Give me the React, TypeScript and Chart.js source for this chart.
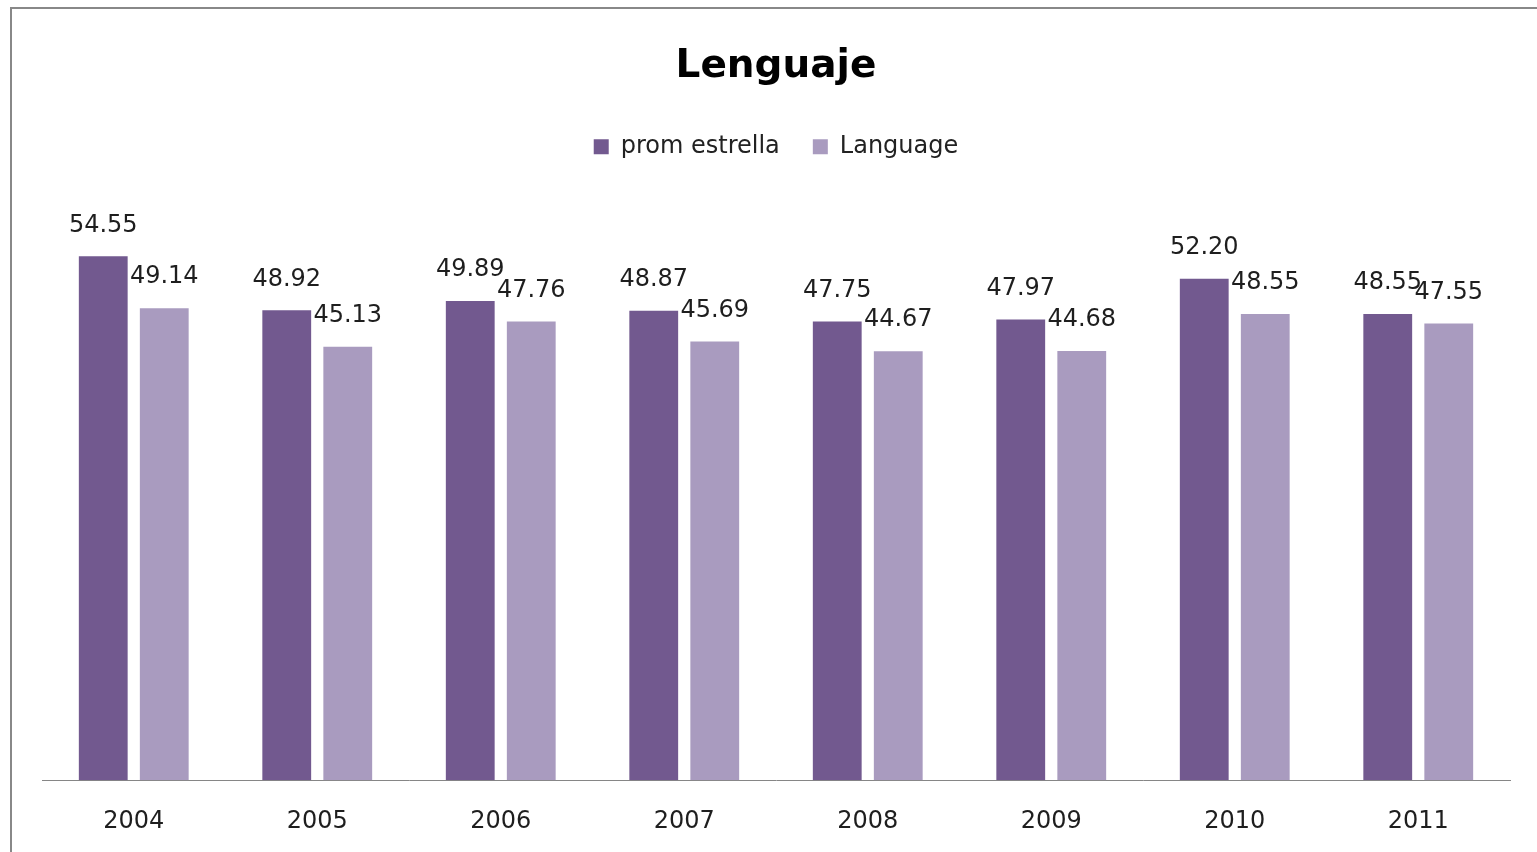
import React, { useEffect, useRef } from "react";
import { Chart, registerables } from "chart.js";

Chart.register(...registerables);

const categories = ["2004", "2005", "2006", "2007", "2008", "2009", "2010", "2011"];
const promEstrella = [54.55, 48.92, 49.89, 48.87, 47.75, 47.97, 52.2, 48.55];
const language = [49.14, 45.13, 47.76, 45.69, 44.67, 44.68, 48.55, 47.55];
const seriesNames = ["prom estrella", "Language"];
const titleText = "Lenguaje";

const FONT = "'DejaVu Sans', sans-serif";

const labelPlugin = {
  id: "barLabels",
  afterDatasetsDraw(chart: any) {
    const ctx = chart.ctx;
    ctx.save();
    ctx.font = `24px ${FONT}`;
    ctx.fillStyle = "#1e1e1e";
    ctx.textAlign = "center";
    ctx.textBaseline = "middle";
    chart.data.datasets.forEach((ds: any, di: number) => {
      const meta = chart.getDatasetMeta(di);
      meta.data.forEach((el: any, i: number) => {
        ctx.fillText(Number(ds.data[i]).toFixed(2), el.x, el.y - 31);
      });
    });
    ctx.restore();
  },
};

export default function App() {
  const ref = useRef<HTMLCanvasElement>(null);
  useEffect(() => {
    const chart = new Chart(ref.current!, {
      type: "bar",
      data: {
        labels: categories,
        datasets: [
          { label: seriesNames[0], data: promEstrella, backgroundColor: "#72598F" },
          { label: seriesNames[1], data: language, backgroundColor: "#A99BBF" },
        ],
      },
      options: {
        animation: false,
        responsive: false,
        maintainAspectRatio: false,
        layout: { padding: { top: 0, left: 30, right: 32, bottom: 0 } },
        datasets: { bar: { categoryPercentage: 0.665, barPercentage: 0.8 } },
        plugins: {
          tooltip: { enabled: false },
          title: {
            display: true,
            text: titleText,
            color: "#000",
            font: { family: FONT, size: 39, weight: "bold" },
            padding: { top: 34, bottom: 12 },
          },
          legend: {
            display: true,
            labels: {
              boxWidth: 15,
              boxHeight: 15,
              color: "#222",
              font: { family: FONT, size: 24 },
              padding: 33,
            },
          },
        },
        scales: {
          x: {
            grid: { display: false, drawTicks: false },
            border: { display: true, color: "#868686", width: 1 },
            ticks: { color: "#1e1e1e", font: { family: FONT, size: 24 }, padding: 27 },
          },
          y: { display: false, min: 0, max: 63.66 },
        },
      },
      plugins: [labelPlugin],
    });
    return () => chart.destroy();
  }, []);

  return (
    <div
      style={{
        position: "fixed",
        left: 10,
        top: 7,
        width: 1530,
        height: 854,
        border: "2px solid #888",
        background: "#fff",
      }}
    >
      <canvas ref={ref} width={1530} height={854} style={{ display: "block" }} />
    </div>
  );
}
